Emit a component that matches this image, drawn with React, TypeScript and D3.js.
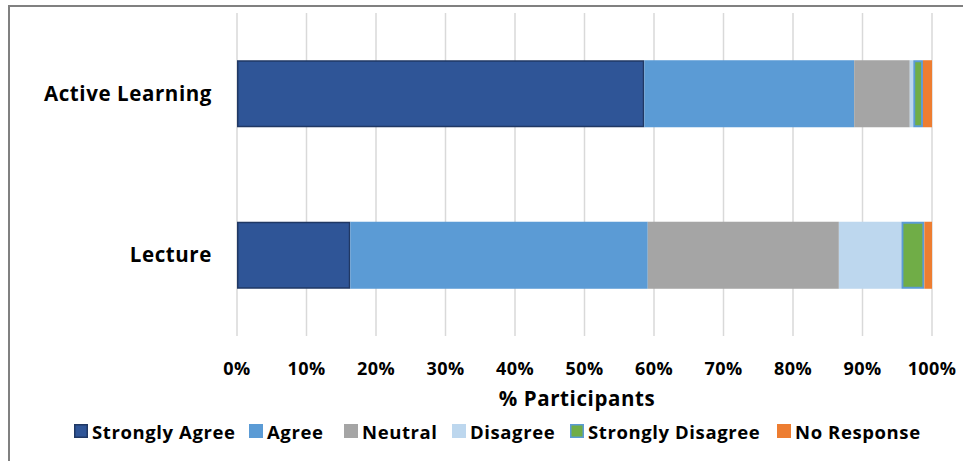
import * as d3 from 'd3';

const categories = ['Active Learning', 'Lecture'];
const responses = ['Strongly Agree', 'Agree', 'Neutral', 'Disagree', 'Strongly Disagree', 'No Response'];
// percent of participants per response, in category order
const stronglyAgree = [58.6, 16.3];
const agree = [30.2, 42.8];
const neutral = [8.0, 27.5];
const disagree = [0.5, 9.0];
const stronglyDisagree = [1.4, 3.3];
const noResponse = [1.3, 1.1];
const xTicks = [0, 10, 20, 30, 40, 50, 60, 70, 80, 90, 100];

const fills = ['#2F5597', '#5B9BD5', '#A5A5A5', '#BDD7EE', '#70AD47', '#ED7D31'];
const strokes = ['#203864', null, null, null, '#5B9BD5', null];

const W = 963;
const H = 461;
const font = '"Open Sans", Lato, sans-serif';

export default function App() {
  const seriesValues = [stronglyAgree, agree, neutral, disagree, stronglyDisagree, noResponse];
  const rows = categories.map((c, i) => {
    const r: any = { category: c };
    responses.forEach((k, j) => { r[k] = seriesValues[j][i]; });
    return r;
  });
  const stacked = d3.stack().keys(responses)(rows);

  const x = d3.scaleLinear().domain([0, 100]).range([237, 932]);
  const y = d3.scaleBand().domain(categories).range([13, 336]).padding(0);
  const barH = y.bandwidth() * 0.415;

  // legend square positions
  const legendX = [74, 249, 344, 452, 570, 777];

  return (
    <svg width={W} height={H} style={{ position: 'absolute', left: 0, top: 0 }}>
      <rect x={0} y={0} width={W} height={H} fill="#fff" />
      <rect x={9} y={6} width={W + 10} height={H + 10} fill="none" stroke="#808080" strokeWidth={2} />

      {xTicks.map(t => (
        <line key={t} x1={x(t)} x2={x(t)} y1={13} y2={336} stroke="#D9D9D9" strokeWidth={1.5} />
      ))}

      {stacked.map((s, j) => (
        <g key={s.key}>
          {s.map((d, i) => {
            const cy = (y(categories[i]) as number) + y.bandwidth() / 2;
            const sw = strokes[j] ? (j === 0 ? 1.5 : 2) : 0;
            return (
              <rect
                key={i}
                x={x(d[0]) + sw / 2}
                y={cy - barH / 2 + sw / 2}
                width={Math.max(0, x(d[1]) - x(d[0]) - sw)}
                height={barH - sw}
                fill={fills[j]}
                stroke={strokes[j] || 'none'}
                strokeWidth={sw}
              />
            );
          })}
        </g>
      ))}

      {categories.map(c => (
        <text key={c} x={212} y={(y(c) as number) + y.bandwidth() / 2} dy="0.35em" textAnchor="end"
          fontFamily={font} fontWeight={700} fontSize={20.5} letterSpacing={0.6} fill="#000">{c}</text>
      ))}

      {xTicks.map(t => (
        <text key={t} x={x(t)} y={375} textAnchor="middle" fontFamily={font} fontWeight={700}
          fontSize={18} letterSpacing={0.4} fill="#000">{t}%</text>
      ))}

      <text x={577} y={406} textAnchor="middle" fontFamily={font} fontWeight={700} fontSize={20.5}
        letterSpacing={0.6} fill="#000">
        % Participants
      </text>

      {responses.map((r, j) => (
        <g key={r} transform={`translate(${legendX[j]},424)`}>
          <rect x={strokes[j] ? 0.75 : 0} y={strokes[j] ? 0.75 : 0} width={strokes[j] ? 12.5 : 14} height={strokes[j] ? 12.5 : 14}
            fill={fills[j]} stroke={strokes[j] || 'none'} strokeWidth={strokes[j] ? 1.5 : 0} />
          <text x={18} y={14.5} fontFamily={font} fontWeight={700} fontSize={18.5} letterSpacing={0.6}
            fill="#000">{r}</text>
        </g>
      ))}
    </svg>
  );
}
